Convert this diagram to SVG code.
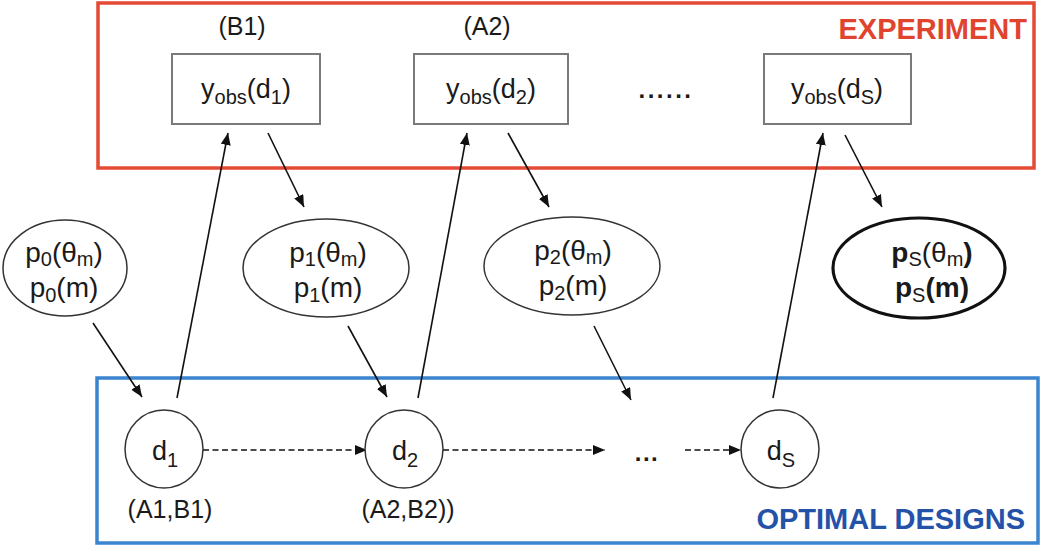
<svg xmlns="http://www.w3.org/2000/svg" width="1050" height="547" viewBox="0 0 1050 547">
<defs>
<marker id="ah" markerUnits="userSpaceOnUse" markerWidth="12" markerHeight="10" refX="12" refY="5" orient="auto">
<path d="M0,0 L12,5 L0,10 z" fill="#111"/>
</marker>
<style>
.t{font-family:"Liberation Sans",Arial,sans-serif;fill:#1a1a1a;}
.box{fill:#fff;stroke:#7a7a7a;stroke-width:2;}
.ell{fill:#fff;stroke:#333;stroke-width:1.5;}
.circ{fill:#fff;stroke:#333;stroke-width:1.5;}
.con{stroke:#111;stroke-width:1.6;fill:none;marker-end:url(#ah);}
.dash{stroke-dasharray:6,3.5;}
</style>
</defs>
<rect width="1050" height="547" fill="#fff"/>

<g id="experiment">
<rect x="98" y="3" width="936" height="165" fill="none" stroke="#e54a35" stroke-width="3.5"/>
<text x="1027" y="39" text-anchor="end" font-family="Liberation Sans, Arial, sans-serif" font-weight="bold" font-size="29" fill="#e0442e">EXPERIMENT</text>
</g>
<g id="optimal-designs">
<rect x="97" y="378" width="941" height="165" fill="none" stroke="#3a84d0" stroke-width="3.5"/>
<text x="1025" y="529" text-anchor="end" font-family="Liberation Sans, Arial, sans-serif" font-weight="bold" font-size="29" fill="#2352a8">OPTIMAL DESIGNS</text>
</g>

<g id="connectors">
<line class="con" x1="93" y1="323" x2="142" y2="397"/>
<line class="con" x1="177" y1="398" x2="228" y2="133"/>
<line class="con" x1="268" y1="133" x2="304" y2="207"/>
<line class="con" x1="348" y1="326" x2="387" y2="397"/>
<line class="con" x1="418" y1="398" x2="467" y2="133"/>
<line class="con" x1="508" y1="133" x2="549" y2="207"/>
<line class="con" x1="594" y1="326" x2="631" y2="400"/>
<line class="con" x1="773" y1="398" x2="823" y2="133"/>
<line class="con" x1="845" y1="135" x2="882" y2="207"/>
<line class="con dash" x1="203" y1="450" x2="367" y2="450"/>
<line class="con dash" x1="443" y1="450" x2="605" y2="450"/>
<line class="con dash" x1="685" y1="450" x2="741" y2="450"/>
</g>

<g id="label-B1"><text class="t" x="242" y="35" text-anchor="middle" font-size="25">(B1)</text></g>
<g id="label-A2"><text class="t" x="487" y="35" text-anchor="middle" font-size="25">(A2)</text></g>

<g id="yobs1">
<rect class="box" x="172" y="54" width="148" height="70"/>
<text class="t" x="246" y="98" text-anchor="middle" font-size="27">y<tspan font-size="20" dy="6">obs</tspan><tspan dy="-6">(d</tspan><tspan font-size="20" dy="6">1</tspan><tspan dy="-6">)</tspan></text>
</g>
<g id="yobs2">
<rect class="box" x="414" y="54" width="154" height="70"/>
<text class="t" x="491" y="98" text-anchor="middle" font-size="27">y<tspan font-size="20" dy="6">obs</tspan><tspan dy="-6">(d</tspan><tspan font-size="20" dy="6">2</tspan><tspan dy="-6">)</tspan></text>
</g>
<g id="dots-top"><text class="t" x="666" y="98" text-anchor="middle" font-size="24" font-weight="bold" letter-spacing="2.5">......</text></g>
<g id="yobsS">
<rect class="box" x="764" y="54" width="147" height="70"/>
<text class="t" x="837" y="98" text-anchor="middle" font-size="27">y<tspan font-size="20" dy="6">obs</tspan><tspan dy="-6">(d</tspan><tspan font-size="20" dy="6">S</tspan><tspan dy="-6">)</tspan></text>
</g>

<g id="p0">
<ellipse class="ell" cx="65" cy="268" rx="62" ry="48"/>
<text class="t" x="64" y="262" text-anchor="middle" font-size="28">p<tspan font-size="20" dy="4">0</tspan><tspan dy="-4">(θ</tspan><tspan font-size="20" dy="4">m</tspan><tspan dy="-4">)</tspan></text>
<text class="t" x="64" y="297" text-anchor="middle" font-size="28">p<tspan font-size="20" dy="5">0</tspan><tspan dy="-5">(m)</tspan></text>
</g>
<g id="p1">
<ellipse class="ell" cx="326" cy="268" rx="83" ry="49"/>
<text class="t" x="328" y="262" text-anchor="middle" font-size="28">p<tspan font-size="20" dy="4">1</tspan><tspan dy="-4">(θ</tspan><tspan font-size="20" dy="4">m</tspan><tspan dy="-4">)</tspan></text>
<text class="t" x="328" y="297" text-anchor="middle" font-size="28">p<tspan font-size="20" dy="5">1</tspan><tspan dy="-5">(m)</tspan></text>
</g>
<g id="p2">
<ellipse class="ell" cx="572" cy="266" rx="88" ry="49"/>
<text class="t" x="573" y="260" text-anchor="middle" font-size="28">p<tspan font-size="20" dy="4">2</tspan><tspan dy="-4">(θ</tspan><tspan font-size="20" dy="4">m</tspan><tspan dy="-4">)</tspan></text>
<text class="t" x="573" y="295" text-anchor="middle" font-size="28">p<tspan font-size="20" dy="5">2</tspan><tspan dy="-5">(m)</tspan></text>
</g>
<g id="pS">
<ellipse cx="919" cy="268" rx="86" ry="50" fill="#fff" stroke="#111" stroke-width="3.2"/>
<text class="t" x="932" y="262" text-anchor="middle" font-size="28"><tspan font-weight="bold">p</tspan><tspan font-size="20" dy="4">S</tspan><tspan dy="-4">(θ</tspan><tspan font-size="20" dy="4">m</tspan><tspan dy="-4" font-weight="bold">)</tspan></text>
<text class="t" x="932" y="297" text-anchor="middle" font-size="28" font-weight="bold">p<tspan font-size="20" font-weight="normal" dy="5">S</tspan><tspan dy="-5">(m)</tspan></text>
</g>

<g id="d1">
<circle class="circ" cx="164" cy="449" r="39"/>
<text class="t" x="165" y="460" text-anchor="middle" font-size="27">d<tspan font-size="20" dy="7">1</tspan></text>
</g>
<g id="label-A1B1"><text class="t" x="170" y="518" text-anchor="middle" font-size="25">(A1,B1)</text></g>
<g id="d2">
<circle class="circ" cx="404" cy="449" r="39"/>
<text class="t" x="405" y="460" text-anchor="middle" font-size="27">d<tspan font-size="20" dy="7">2</tspan></text>
</g>
<g id="label-A2B2"><text class="t" x="408" y="518" text-anchor="middle" font-size="25">(A2,B2))</text></g>
<g id="dots-bottom"><text class="t" x="647" y="461" text-anchor="middle" font-size="24" font-weight="bold" letter-spacing="1.5">...</text></g>
<g id="dS">
<circle class="circ" cx="780" cy="449" r="39"/>
<text class="t" x="781" y="460" text-anchor="middle" font-size="27">d<tspan font-size="20" dy="7">S</tspan></text>
</g>
</svg>
